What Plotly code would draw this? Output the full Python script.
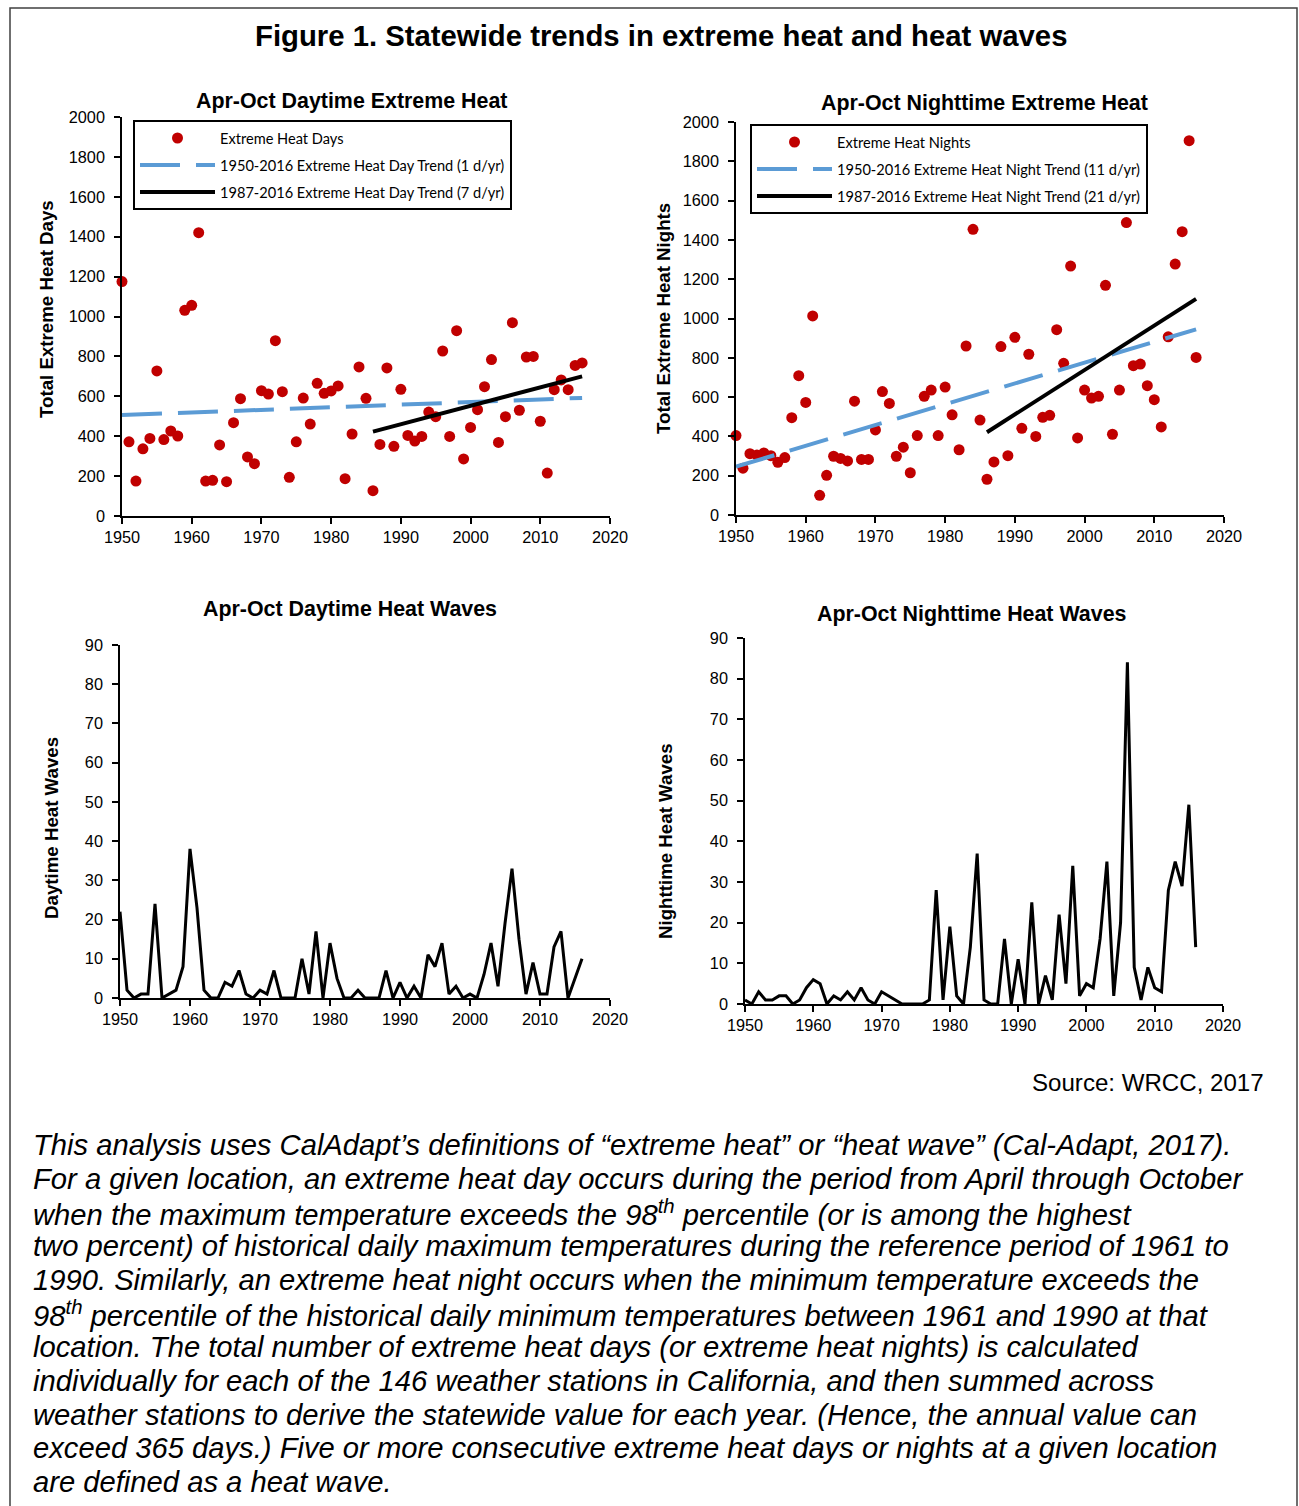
import plotly.graph_objects as go

# ---------------- DATA ----------------
years = list(range(1950, 2017))

heat_days = [1175, 372, 175, 337, 389, 727, 383, 426, 401, 1031,
             1056, 1420, 175, 179, 356, 172, 468, 588, 296, 262,
             628, 611, 879, 623, 194, 372, 591, 461, 665, 615,
             627, 652, 187, 411, 747, 590, 127, 359, 742, 349,
             635, 404, 376, 399, 521, 498, 827, 399, 929, 286,
             444, 533, 648, 784, 369, 498, 969, 530, 797, 800,
             475, 215, 633, 682, 633, 755, 767]

heat_nights = [404, 238, 312, 305, 316, 302, 268, 292, 495, 709,
               573, 1013, 100, 202, 299, 288, 275, 579, 283, 283,
               433, 628, 568, 299, 345, 215, 404, 604, 636, 404,
               651, 510, 332, 860, 1454, 483, 182, 270, 857, 302,
               904, 441, 818, 400, 497, 507, 943, 772, 1267, 392,
               636, 595, 604, 1169, 411, 636, 1488, 760, 768, 658,
               587, 448, 907, 1277, 1442, 1905, 802]

day_waves = [22, 2, 0, 1, 1, 24, 0, 1, 2, 8,
             38, 23, 2, 0, 0, 4, 3, 7, 1, 0,
             2, 1, 7, 0, 0, 0, 10, 1, 17, 0,
             14, 5, 0, 0, 2, 0, 0, 0, 7, 0,
             4, 0, 3, 0, 11, 8, 14, 1, 3, 0,
             1, 0, 6, 14, 3, 19, 33, 15, 1, 9,
             1, 1, 13, 17, 0, 5, 10]

night_waves = [1, 0, 3, 1, 1, 2, 2, 0, 1, 4,
               6, 5, 0, 2, 1, 3, 1, 4, 1, 0,
               3, 2, 1, 0, 0, 0, 0, 1, 28, 1,
               19, 2, 0, 14, 37, 1, 0, 0, 16, 0,
               11, 0, 25, 0, 7, 1, 22, 5, 34, 2,
               5, 4, 16, 35, 2, 20, 84, 9, 1, 9,
               4, 3, 28, 35, 29, 49, 14]

# trend line end points
day_trend_all_years = [1950, 2016]
day_trend_all_vals = [506, 592]
day_trend_recent_years = [1986, 2016]
day_trend_recent_vals = [423, 700]
night_trend_all_years = [1950, 2016]
night_trend_all_vals = [246, 945]
night_trend_recent_years = [1986, 2016]
night_trend_recent_vals = [421, 1100]

x_ticks = [1950, 1960, 1970, 1980, 1990, 2000, 2010, 2020]
heat_ticks = list(range(0, 2001, 200))
wave_ticks = list(range(0, 91, 10))

main_title = "Figure 1. Statewide trends in extreme heat and heat waves"
panel_titles = ["Apr-Oct Daytime Extreme Heat", "Apr-Oct Nighttime Extreme Heat",
                "Apr-Oct Daytime Heat Waves", "Apr-Oct Nighttime Heat Waves"]
y_titles = ["Total Extreme Heat Days", "Total Extreme Heat Nights",
            "Daytime Heat Waves", "Nighttime Heat Waves"]
legend_names_day = ["Extreme Heat Days",
                    "1950-2016 Extreme Heat Day Trend (1 d/yr)",
                    "1987-2016 Extreme Heat Day Trend (7 d/yr)"]
legend_names_night = ["Extreme Heat Nights",
                      "1950-2016 Extreme Heat Night Trend (11 d/yr)",
                      "1987-2016 Extreme Heat Night Trend (21 d/yr)"]
source_text = "Source: WRCC, 2017"
caption_lines = [
    "This analysis uses CalAdapt\u2019s definitions of \u201cextreme heat\u201d or \u201cheat wave\u201d (Cal-Adapt, 2017).",
    "For a given location, an extreme heat day occurs during the period from April through October",
    "when the maximum temperature exceeds the 98<sup>th</sup> percentile (or is among the highest",
    "two percent) of historical daily maximum temperatures during the reference period of 1961 to",
    "1990. Similarly, an extreme heat night occurs when the minimum temperature exceeds the",
    "98<sup>th</sup> percentile of the historical daily minimum temperatures between 1961 and 1990 at that",
    "location. The total number of extreme heat days (or extreme heat nights) is calculated",
    "individually for each of the 146 weather stations in California, and then summed across",
    "weather stations to derive the statewide value for each year. (Hence, the annual value can",
    "exceed 365 days.) Five or more consecutive extreme heat days or nights at a given location",
    "are defined as a heat wave.",
]

# ---------------- LAYOUT HELPERS ----------------
W, H = 1299, 1506
def px(x):
    return x / W
def py(y):
    return 1 - y / H

RED = "#C00000"
BLUE = "#5B9BD5"
FONT = "Liberation Sans"
LEGFONT = "Lato"

fig = go.Figure()

# --- top-left scatter ---
fig.add_trace(go.Scatter(x=years, y=heat_days, mode="markers", name=legend_names_day[0],
                         marker=dict(color=RED, size=11), xaxis="x", yaxis="y",
                         legend="legend", legendgroup="a", cliponaxis=False))
fig.add_trace(go.Scatter(x=day_trend_all_years, y=day_trend_all_vals, mode="lines",
                         name=legend_names_day[1], line=dict(color=BLUE, width=4, dash="40px,16px"),
                         xaxis="x", yaxis="y", legend="legend", legendgroup="b"))
fig.add_trace(go.Scatter(x=day_trend_recent_years, y=day_trend_recent_vals, mode="lines",
                         name=legend_names_day[2], line=dict(color="black", width=4),
                         xaxis="x", yaxis="y", legend="legend", legendgroup="c"))

# --- top-right scatter ---
fig.add_trace(go.Scatter(x=years, y=heat_nights, mode="markers", name=legend_names_night[0],
                         marker=dict(color=RED, size=11), xaxis="x2", yaxis="y2",
                         legend="legend2", legendgroup="d", cliponaxis=False))
fig.add_trace(go.Scatter(x=night_trend_all_years, y=night_trend_all_vals, mode="lines",
                         name=legend_names_night[1], line=dict(color=BLUE, width=4, dash="40px,16px"),
                         xaxis="x2", yaxis="y2", legend="legend2", legendgroup="e"))
fig.add_trace(go.Scatter(x=night_trend_recent_years, y=night_trend_recent_vals, mode="lines",
                         name=legend_names_night[2], line=dict(color="black", width=4),
                         xaxis="x2", yaxis="y2", legend="legend2", legendgroup="f"))

# --- bottom lines ---
fig.add_trace(go.Scatter(x=years, y=day_waves, mode="lines", line=dict(color="black", width=3),
                         xaxis="x3", yaxis="y3", showlegend=False, cliponaxis=False))
fig.add_trace(go.Scatter(x=years, y=night_waves, mode="lines", line=dict(color="black", width=3),
                         xaxis="x4", yaxis="y4", showlegend=False, cliponaxis=False))

tickfont = dict(family=FONT, size=16.3, color="black")
def xax(dom, anchor):
    return dict(domain=dom, anchor=anchor, range=[1950, 2020], tickvals=x_ticks,
                showline=True, linecolor="black", linewidth=1.5, ticks="outside",
                ticklen=6, tickwidth=1.5, tickcolor="black", showgrid=False,
                zeroline=False, tickfont=tickfont, fixedrange=True, automargin=False)
def yax(dom, anchor, rng, tv):
    return dict(domain=dom, anchor=anchor, range=rng, tickvals=tv,
                showline=True, linecolor="black", linewidth=1.5, ticks="outside",
                ticklen=6, tickwidth=1.5, tickcolor="black", showgrid=False,
                zeroline=False, tickfont=tickfont, ticklabelstandoff=6, fixedrange=True,
                automargin=False)

legfont = dict(family=LEGFONT, size=14.6, color="black")
fig.update_layout(
    template="none",
    width=W, height=H, autosize=False,
    margin=dict(l=0, r=0, t=0, b=0, pad=0),
    paper_bgcolor="white", plot_bgcolor="rgba(0,0,0,0)",
    xaxis=xax([px(122), px(610)], "y"),
    yaxis=yax([py(516), py(117)], "x", [0, 2000], heat_ticks),
    xaxis2=xax([px(736), px(1224)], "y2"),
    yaxis2=yax([py(515), py(122)], "x2", [0, 2000], heat_ticks),
    xaxis3=xax([px(120), px(610)], "y3"),
    yaxis3=yax([py(998), py(645)], "x3", [0, 90], wave_ticks),
    xaxis4=xax([px(745), px(1223)], "y4"),
    yaxis4=yax([py(1004), py(638)], "x4", [0, 90], wave_ticks),
    legend=dict(x=px(133), y=py(120), xanchor="left", yanchor="top",
                bordercolor="black", borderwidth=2, bgcolor="white", font=legfont,
                traceorder="grouped", tracegroupgap=5, itemwidth=75),
    legend2=dict(x=px(750), y=py(124), xanchor="left", yanchor="top",
                 bordercolor="black", borderwidth=2, bgcolor="white", font=legfont,
                 traceorder="grouped", tracegroupgap=5, itemwidth=75),
    showlegend=True,
)

ann = []
ann.append(dict(text="<b>" + main_title + "</b>", x=px(661), y=py(36), xref="paper", yref="paper",
                showarrow=False, xanchor="center", yanchor="middle",
                font=dict(family=FONT, size=29.3, color="black")))
title_pos = [(352, 101), (984, 103), (350, 609), (972, 614)]
for t, (tx, ty) in zip(panel_titles, title_pos):
    ann.append(dict(text="<b>" + t + "</b>", x=px(tx), y=py(ty), xref="paper", yref="paper",
                    showarrow=False, xanchor="center", yanchor="middle",
                    font=dict(family=FONT, size=21.4, color="black")))
ytitle_pos = [(46, 309), (663, 319), (52, 828), (666, 841)]
for t, (tx, ty) in zip(y_titles, ytitle_pos):
    ann.append(dict(text="<b>" + t + "</b>", x=px(tx), y=py(ty), xref="paper", yref="paper",
                    showarrow=False, xanchor="center", yanchor="middle", textangle=-90,
                    font=dict(family=FONT, size=18.7, color="black")))
ann.append(dict(text=source_text, x=px(1266), y=py(1082), xref="paper", yref="paper",
                showarrow=False, xanchor="right", yanchor="middle",
                font=dict(family=FONT, size=24.1, color="black")))
for i, line in enumerate(caption_lines):
    ann.append(dict(text="<i>" + line + "</i>", x=px(31), y=py(1145 + i * 33.7),
                    xref="paper", yref="paper", showarrow=False, xanchor="left",
                    yanchor="middle", font=dict(family=FONT, size=29.2, color="black")))
fig.update_layout(annotations=ann)

fig.add_shape(type="rect", xref="paper", yref="paper", x0=px(10), x1=px(1297),
              y0=py(1515), y1=py(8), line=dict(color="#404040", width=1.5),
              fillcolor="rgba(0,0,0,0)", layer="below")

fig.write_html("out.html", config={"displayModeBar": False},
               post_script="document.body.style.margin='0';document.body.style.overflow='hidden';")
